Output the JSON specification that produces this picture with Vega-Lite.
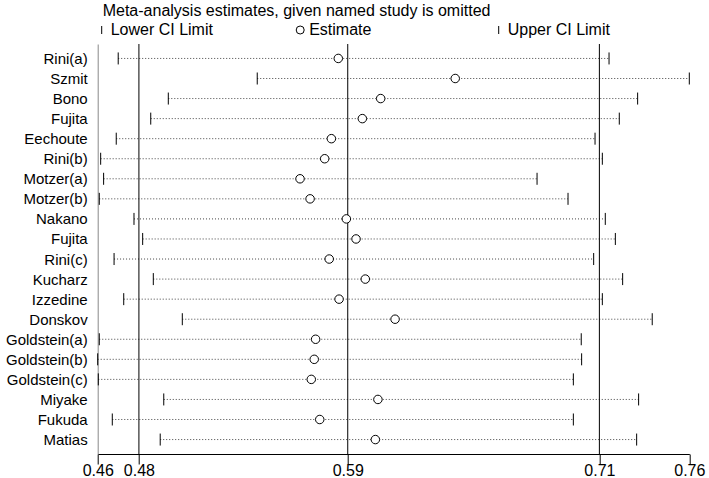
{
  "$schema": "https://vega.github.io/schema/vega-lite/v6.json",
  "autosize": {"type": "none"},
  "width": 591.6,
  "height": 410,
  "padding": {"left": 97.7, "top": 44, "right": 19.7, "bottom": 24},
  "background": "white",
  "config": {
    "font": "Liberation Sans",
    "view": {"stroke": null},
    "axis": {"labelFont": "Liberation Sans", "labelColor": "black", "grid": false}
  },
  "title": {
    "text": "Meta-analysis estimates, given named study is omitted",
    "anchor": "start",
    "frame": "group",
    "fontSize": 16,
    "fontWeight": "normal",
    "font": "Liberation Sans",
    "color": "black",
    "baseline": "alphabetic",
    "dx": 5,
    "offset": -10
  },
  "datasets": {
    "studies": [
      {"study": "Rini(a)", "lower": 0.4704, "est": 0.5820, "upper": 0.7193},
      {"study": "Szmit", "lower": 0.5409, "est": 0.6413, "upper": 0.7600},
      {"study": "Bono", "lower": 0.4958, "est": 0.6035, "upper": 0.7338},
      {"study": "Fujita", "lower": 0.4869, "est": 0.5942, "upper": 0.7245},
      {"study": "Eechoute", "lower": 0.4694, "est": 0.5785, "upper": 0.7122},
      {"study": "Rini(b)", "lower": 0.4615, "est": 0.5751, "upper": 0.7159},
      {"study": "Motzer(a)", "lower": 0.4630, "est": 0.5626, "upper": 0.6828},
      {"study": "Motzer(b)", "lower": 0.4608, "est": 0.5677, "upper": 0.6985},
      {"study": "Nakano", "lower": 0.4784, "est": 0.5861, "upper": 0.7174},
      {"study": "Fujita\u200b", "lower": 0.4828, "est": 0.5910, "upper": 0.7225},
      {"study": "Rini(c)", "lower": 0.4683, "est": 0.5774, "upper": 0.7115},
      {"study": "Kucharz", "lower": 0.4882, "est": 0.5957, "upper": 0.7262},
      {"study": "Izzedine", "lower": 0.4732, "est": 0.5824, "upper": 0.7159},
      {"study": "Donskov", "lower": 0.5029, "est": 0.6108, "upper": 0.7412},
      {"study": "Goldstein(a)", "lower": 0.4608, "est": 0.5705, "upper": 0.7052},
      {"study": "Goldstein(b)", "lower": 0.4600, "est": 0.5698, "upper": 0.7054},
      {"study": "Goldstein(c)", "lower": 0.4603, "est": 0.5683, "upper": 0.7012},
      {"study": "Miyake", "lower": 0.4935, "est": 0.6021, "upper": 0.7343},
      {"study": "Fukuda", "lower": 0.4674, "est": 0.5726, "upper": 0.7012},
      {"study": "Matias", "lower": 0.4917, "est": 0.6008, "upper": 0.7333}
    ],
    "overall": [
      {"v": 0.4809},
      {"v": 0.5868},
      {"v": 0.7144}
    ]
  },
  "layer": [
    {
      "data": {"name": "studies"},
      "mark": {"type": "rule", "color": "#444", "strokeWidth": 1, "strokeDash": [1, 2]},
      "encoding": {
        "y": {
          "field": "study", "type": "nominal", "sort": null,
          "scale": {"type": "point", "padding": 0.72},
          "axis": {
            "title": null,
            "ticks": false,
            "labelPadding": 10.5,
            "labelFontSize": 15,
            "domainColor": "#888",
            "domainWidth": 1
          }
        },
        "x": {
          "field": "lower", "type": "quantitative",
          "scale": {"domain": [0.46, 0.76], "nice": false, "zero": false},
          "axis": {
            "title": null,
            "values": [0.46, 0.4809, 0.5868, 0.7144, 0.76],
            "format": ".2f",
            "labelFlush": false,
            "labelFontSize": 16,
            "labelPadding": -1.5,
            "labelDx": 4,
            "tickSize": 10,
            "tickColor": "black",
            "domainColor": "black",
            "labelOverlap": false
          }
        },
        "x2": {"field": "upper"}
      }
    },
    {
      "data": {"name": "overall"},
      "mark": {"type": "rule", "color": "black", "strokeWidth": 1},
      "encoding": {
        "x": {"field": "v", "type": "quantitative"}
      }
    },
    {
      "data": {"name": "studies"},
      "transform": [{"fold": ["lower", "upper"], "as": ["kind", "val"]}],
      "mark": {"type": "point", "stroke": "black", "strokeWidth": 1, "opacity": 1, "size": 144},
      "encoding": {
        "y": {"field": "study", "type": "nominal", "sort": null},
        "x": {"field": "val", "type": "quantitative"},
        "shape": {
          "field": "kind",
          "type": "nominal",
          "scale": {"domain": ["lower", "est", "upper"], "range": ["M0,-1L0,1", "circle", "M0,-1L0,1"]},
          "legend": {
            "title": null,
            "orient": "none",
            "legendX": -4,
            "legendY": -22,
            "direction": "horizontal",
            "columns": 3,
            "gridAlign": "all",
            "columnPadding": 78.5,
            "padding": 0,
            "symbolSize": 64,
            "symbolStrokeColor": "black",
            "symbolFillColor": "white",
            "symbolStrokeWidth": 1,
            "symbolOpacity": 1,
            "labelFontSize": 16,
            "labelFont": "Liberation Sans",
            "labelColor": "black",
            "labelOffset": 1,
            "labelLimit": 200,
            "labelExpr": "datum.value == 'lower' ? 'Lower CI Limit' : datum.value == 'est' ? 'Estimate' : 'Upper CI Limit'"
          }
        }
      }
    },
    {
      "data": {"name": "studies"},
      "transform": [{"fold": ["est"], "as": ["kind", "val"]}],
      "mark": {"type": "point", "fill": "white", "stroke": "black", "strokeWidth": 1, "opacity": 1, "size": 72},
      "encoding": {
        "y": {"field": "study", "type": "nominal", "sort": null},
        "x": {"field": "val", "type": "quantitative"},
        "shape": {"field": "kind", "type": "nominal"}
      }
    }
  ]
}
